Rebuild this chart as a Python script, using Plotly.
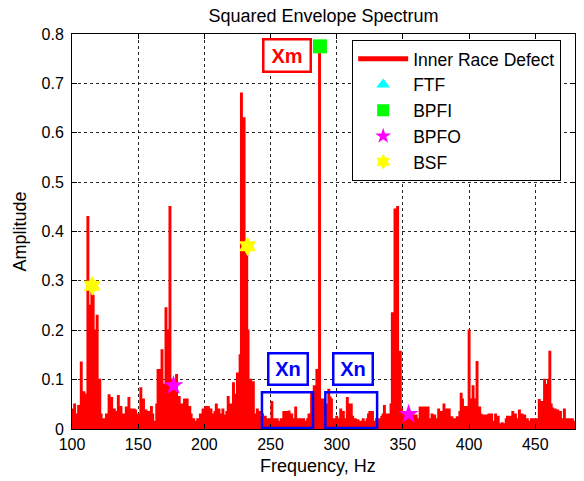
import plotly.graph_objects as go

freq_start = 100
amplitude = [
    0.04, 0.02, 0.05, 0.015, 0.03, 0.047, 0.02, 0.135, 0.03, 0.075,
    0.07, 0.04, 0.43, 0.21, 0.25, 0.29, 0.27, 0.2, 0.12, 0.23,
    0.05, 0.1, 0.03, 0.015, 0.02, 0.01, 0.03, 0.02, 0.069, 0.04,
    0.063, 0.025, 0.04, 0.02, 0.035, 0.067, 0.03, 0.045, 0.02, 0.03,
    0.015, 0.044, 0.025, 0.063, 0.03, 0.04, 0.02, 0.04, 0.038, 0.02,
    0.03, 0.02, 0.083, 0.03, 0.06, 0.02, 0.038, 0.025, 0.035, 0.02,
    0.045, 0.03, 0.015, 0.01, 0.05, 0.12, 0.08, 0.12, 0.16, 0.09,
    0.07, 0.245, 0.12, 0.2, 0.45, 0.1, 0.06, 0.09, 0.05, 0.11,
    0.04, 0.065, 0.03, 0.05, 0.025, 0.06, 0.03, 0.06, 0.02, 0.045,
    0.03, 0.015, 0.02, 0.008, 0.015, 0.02, 0.01, 0.03, 0.02, 0.04,
    0.025, 0.045, 0.03, 0.045, 0.02, 0.04, 0.03, 0.02, 0.035, 0.05,
    0.025, 0.04, 0.02, 0.03, 0.04, 0.028, 0.015, 0.035, 0.065, 0.03,
    0.05, 0.03, 0.093, 0.04, 0.07, 0.113, 0.06, 0.15, 0.68, 0.45,
    0.63, 0.26, 0.37, 0.2, 0.09, 0.1, 0.048, 0.095, 0.03, 0.02,
    0.04, 0.02, 0.035, 0.015, 0.03, 0.02, 0.025, 0.01, 0.02, 0.015,
    0.02, 0.055, 0.015, 0.02, 0.01, 0.02, 0.015, 0.01, 0.02, 0.012,
    0.035, 0.015, 0.035, 0.02, 0.036, 0.015, 0.03, 0.01, 0.02, 0.044,
    0.015, 0.02, 0.01, 0.02, 0.015, 0.02, 0.01, 0.015, 0.02, 0.03,
    0.02, 0.075, 0.04, 0.087, 0.05, 0.12, 0.05, 0.775, 0.06, 0.05,
    0.06, 0.03, 0.05, 0.04, 0.08, 0.064, 0.06, 0.02, 0.015, 0.02,
    0.025, 0.015, 0.02, 0.04, 0.015, 0.035, 0.02, 0.015, 0.063, 0.05,
    0.02, 0.05, 0.025, 0.015, 0.02, 0.01, 0.018, 0.012, 0.015, 0.01,
    0.02, 0.015, 0.01, 0.02, 0.03, 0.035, 0.02, 0.035, 0.015, 0.01,
    0.02, 0.015, 0.02, 0.01, 0.025, 0.03, 0.047, 0.02, 0.03, 0.015,
    0.03, 0.05, 0.235, 0.06, 0.445, 0.3, 0.45, 0.1, 0.157, 0.04,
    0.03, 0.02, 0.03, 0.015, 0.028, 0.02, 0.025, 0.015, 0.028, 0.02,
    0.028, 0.015, 0.02, 0.044, 0.02, 0.044, 0.015, 0.044, 0.025, 0.044,
    0.02, 0.015, 0.03, 0.015, 0.028, 0.01, 0.02, 0.04, 0.015, 0.035,
    0.02, 0.05, 0.025, 0.04, 0.02, 0.04, 0.015, 0.024, 0.01, 0.02,
    0.015, 0.024, 0.02, 0.035, 0.072, 0.06, 0.025, 0.045, 0.03, 0.045,
    0.2, 0.06, 0.03, 0.087, 0.04, 0.06, 0.136, 0.04, 0.044, 0.03,
    0.02, 0.028, 0.01, 0.028, 0.015, 0.03, 0.02, 0.03, 0.01, 0.015,
    0.03, 0.015, 0.025, 0.01, 0.008, 0.012, 0.008, 0.01, 0.02, 0.025,
    0.015, 0.025, 0.02, 0.035, 0.015, 0.03, 0.02, 0.015, 0.038, 0.02,
    0.03, 0.015, 0.028, 0.01, 0.02, 0.015, 0.01, 0.02, 0.015, 0.02,
    0.01, 0.02, 0.015, 0.059, 0.05, 0.055, 0.03, 0.1, 0.09, 0.06,
    0.1, 0.157, 0.05, 0.042, 0.02, 0.04, 0.015, 0.038, 0.02, 0.035,
    0.015, 0.02, 0.04, 0.015, 0.02, 0.01, 0.02, 0.015, 0.02, 0.01,
    0.015,
]
frequency = [freq_start + i for i in range(len(amplitude))]

ftf_x, ftf_y = [14.8], [0.05]
bpfi_x, bpfi_y = [287.3], [0.775]
bpfo_x, bpfo_y = [176.7, 354.3], [0.088, 0.03]
bsf_x, bsf_y = [115.3, 232.6], [0.29, 0.37]

x_ticks = [100, 150, 200, 250, 300, 350, 400, 450]
y_ticks = [0, 0.1, 0.2, 0.3, 0.4, 0.5, 0.6, 0.7, 0.8]

FONT = "Liberation Sans, Arial, sans-serif"
RED = "#ff0000"

fig = go.Figure()
fig.add_trace(go.Scatter(x=frequency, y=amplitude, mode="lines", fill="tozeroy",
                         fillcolor=RED, line=dict(color=RED, width=1.6, shape="hvh"),
                         showlegend=False, hoverinfo="skip"))
fig.add_trace(go.Scatter(x=[None], y=[None], mode="lines", name="Inner Race Defect",
                         line=dict(color=RED, width=2.5)))
fig.add_trace(go.Scatter(x=ftf_x, y=ftf_y, mode="markers", name="FTF",
                         marker=dict(symbol="triangle-up", color="#00ffff", size=17)))
fig.add_trace(go.Scatter(x=bpfi_x, y=bpfi_y, mode="markers", name="BPFI",
                         marker=dict(symbol="square", color="#00ff00", size=14)))
fig.add_trace(go.Scatter(x=bpfo_x, y=bpfo_y, mode="markers", name="BPFO",
                         marker=dict(symbol="star", color="#ff00ff", size=15)))
fig.add_trace(go.Scatter(x=bsf_x, y=bsf_y, mode="markers", name="BSF",
                         marker=dict(symbol="hexagram", color="#ffff00", size=15)))

# highlight boxes
for x0, x1 in [(243.5, 282.1), (291.4, 330.5)]:
    fig.add_shape(type="rect", x0=x0, x1=x1, y0=0.002, y1=0.0745,
                  line=dict(color="#0000ff", width=2.5))

fig.add_annotation(x=262.1, y=0.757, text="<b>Xm</b>", showarrow=False,
                   font=dict(family=FONT, size=20, color=RED),
                   bordercolor=RED, borderwidth=2.5, borderpad=0,
                   width=45, height=30, bgcolor="white")
for xc in [262.8, 312.2]:
    fig.add_annotation(x=xc, y=0.121, text="<b>Xn</b>", showarrow=False,
                       font=dict(family=FONT, size=20, color="#0000ff"),
                       bordercolor="#0000ff", borderwidth=2.5, borderpad=0,
                       width=37, height=29, bgcolor="white")

# axis titles
fig.add_annotation(xref="paper", yref="paper", x=0.49, y=0, yshift=-37,
                   text="Frequency, Hz", showarrow=False, yanchor="middle",
                   font=dict(family=FONT, size=18, color="black"))
fig.add_annotation(xref="paper", yref="paper", x=0, y=0.5, xshift=-53,
                   text="Amplitude", showarrow=False, textangle=-90, xanchor="center",
                   font=dict(family=FONT, size=18, color="black"))

axis_common = dict(showline=True, linecolor="black", linewidth=1, mirror="ticks",
                   ticks="inside", ticklen=5, tickcolor="black", automargin=False,
                   showgrid=True, gridcolor="rgba(0,0,0,0.85)", gridwidth=1,
                   griddash="3px,3px", zeroline=False,
                   tickfont=dict(family=FONT, size=16, color="black"))

fig.update_layout(
    width=584, height=481,
    margin=dict(l=72, r=9, t=34, b=52, autoexpand=False),
    paper_bgcolor="white", plot_bgcolor="white",
    font=dict(family=FONT, color="black"),
    title=dict(text="Squared Envelope Spectrum", x=0.5, xref="paper", xanchor="center",
               y=0.968, yanchor="middle", font=dict(family=FONT, size=18, color="black")),
    xaxis=dict(range=[100, 480], tickvals=x_ticks, ticklabelstandoff=1, **axis_common),
    yaxis=dict(range=[0, 0.8], tickvals=y_ticks, ticktext=[str(v) for v in y_ticks],
               ticklabelstandoff=4, **axis_common),
    legend=dict(x=0.557, y=0.985, xanchor="left", yanchor="top",
                bordercolor="black", borderwidth=1, bgcolor="white",
                font=dict(family=FONT, size=17.5, color="black"),
                tracegroupgap=0, itemsizing="constant", itemwidth=50),
)

fig.write_html("out.html", config={"displayModeBar": False},
               post_script="document.body.style.margin='0';document.body.style.padding='0';")
